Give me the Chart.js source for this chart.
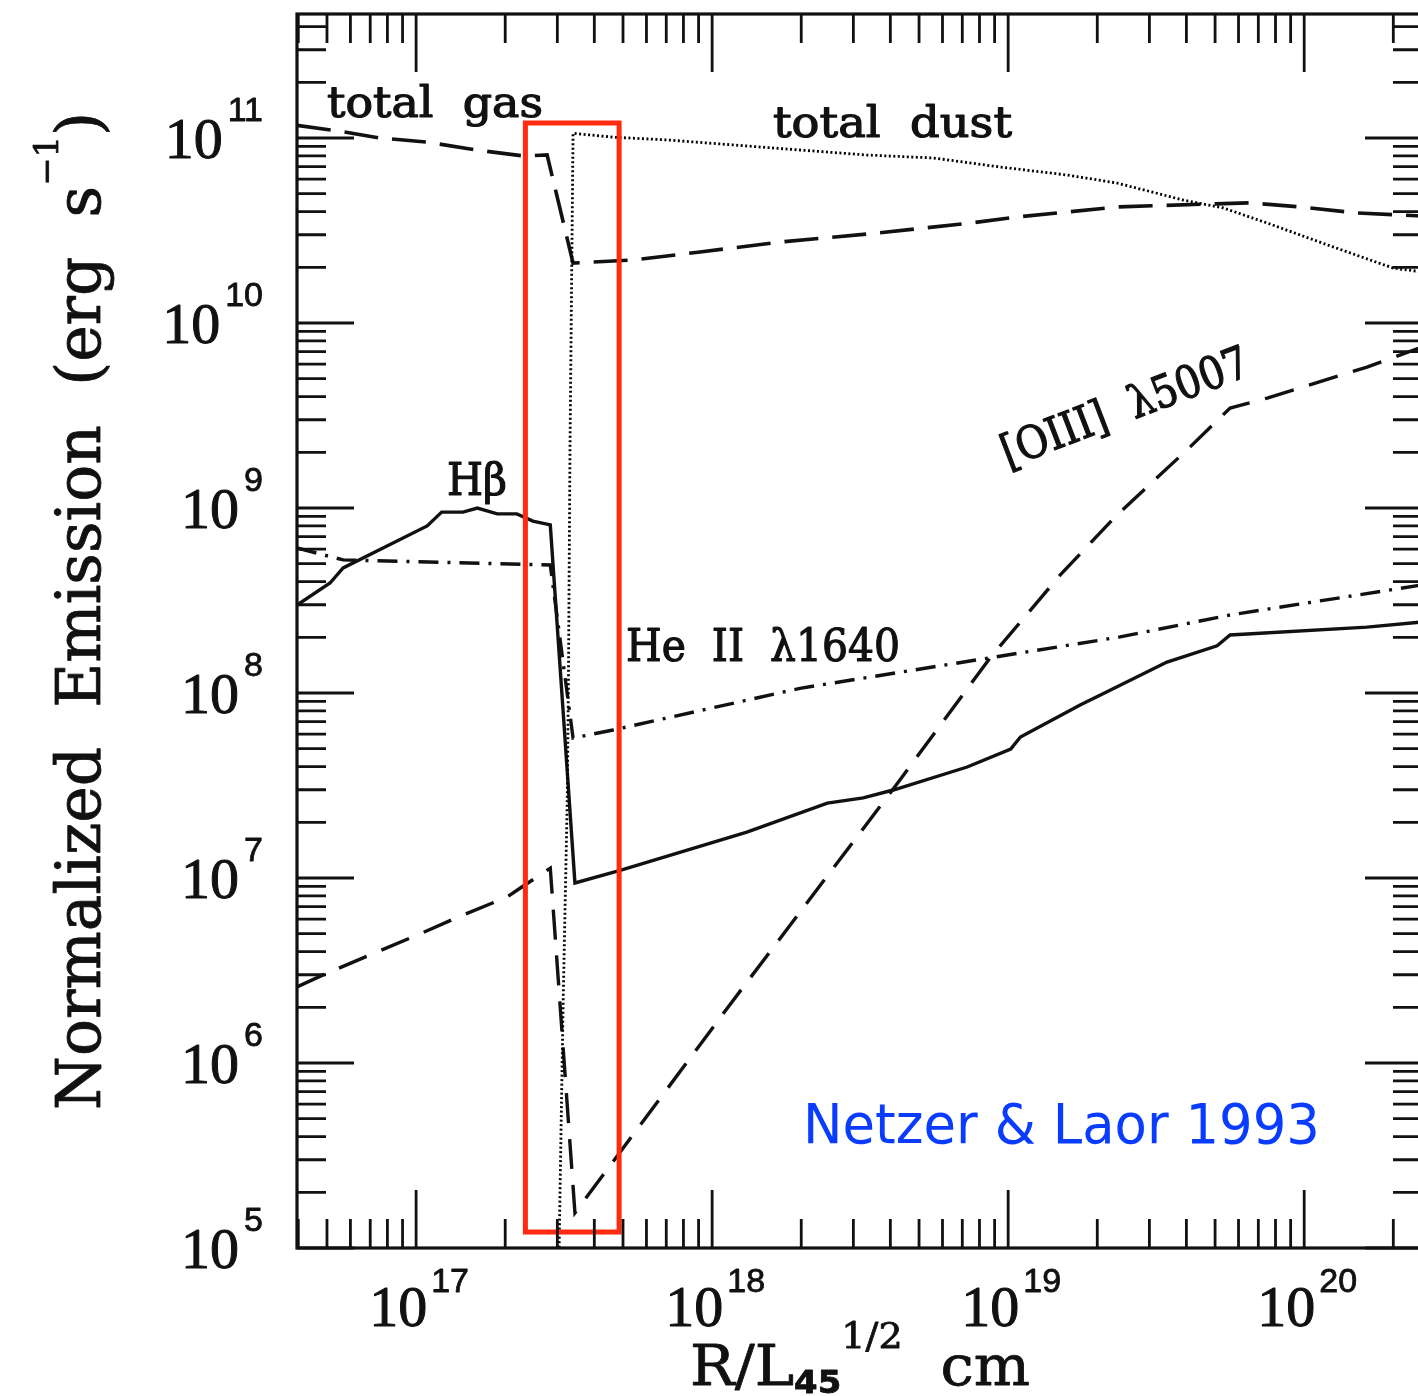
<!DOCTYPE html>
<html>
<head>
<meta charset="utf-8">
<title>Netzer &amp; Laor 1993</title>
<script src="https://cdn.jsdelivr.net/npm/chart.js@4.4.1/dist/chart.umd.min.js"></script>
<style>
  html, body { margin: 0; padding: 0; background: #ffffff; overflow: hidden; }
  #myChart { display: block; }
</style>
</head>
<body>
<canvas id="myChart" width="1440" height="1396"></canvas>
<script>
// R / L45^1/2 (cm) and emission (erg s^-1)
const hbR = [3.96e16, 5.12e16, 5.67e16, 1.09e17, 1.22e17, 1.44e17, 1.61e17, 1.88e17, 2.19e17, 2.48e17, 2.84e17, 3.44e17, 4.89e17, 1.31e18, 2.45e18, 3.24e18, 4.09e18, 7.27e18, 1.02e19, 1.10e19, 1.75e19, 2.05e19, 3.44e19, 5.08e19, 5.62e19, 1.63e20, 2.5e20];
const hbE = [2.99e8, 3.93e8, 4.74e8, 8.0e8, 9.5e8, 9.5e8, 1.0e9, 9.3e8, 9.3e8, 8.5e8, 8.1e8, 9.4e6, 1.10e7, 1.77e7, 2.54e7, 2.71e7, 2.99e7, 3.98e7, 4.98e7, 5.78e7, 8.61e7, 9.75e7, 1.47e8, 1.80e8, 2.06e8, 2.27e8, 2.42e8];

const heR = [3.96e16, 5.67e16, 2.84e17, 3.39e17, 4.63e17, 1.98e18, 8.69e18, 2.39e19, 5.62e19, 2.5e20];
const heE = [6.08e8, 5.24e8, 4.92e8, 5.71e7, 6.31e7, 1.06e8, 1.55e8, 2.01e8, 2.64e8, 3.84e8];

const gasR = [3.96e16, 5.67e16, 7.56e16, 1.09e17, 1.61e17, 2.30e17, 2.77e17, 3.39e17, 5.41e17, 9.10e17, 1.70e18, 3.61e18, 7.44e18, 1.07e19, 1.58e19, 2.33e19, 4.81e19, 6.57e19, 9.69e19, 1.51e20, 2.5e20];
const gasE = [1.17e11, 1.08e11, 1.0e11, 9.5e10, 8.6e10, 8.0e10, 8.1e10, 2.11e10, 2.19e10, 2.42e10, 2.74e10, 3.06e10, 3.47e10, 3.74e10, 3.98e10, 4.24e10, 4.40e10, 4.46e10, 4.24e10, 3.93e10, 3.79e10];

const dustR = [3.04e17, 3.14e17, 3.24e17, 3.27e17, 3.31e17, 3.39e17, 4.63e17, 7.05e17, 1.18e18, 1.98e18, 3.34e18, 5.58e18, 9.39e18, 1.58e19, 2.33e19, 3.90e19, 5.32e19, 7.50e19, 1.25e20, 2.0e20, 2.5e20];
const dustE = [9.5e4, 2.19e6, 2.64e7, 1.13e8, 2.06e9, 1.06e11, 1.01e11, 9.76e10, 9.17e10, 8.61e10, 8.09e10, 7.80e10, 6.97e10, 6.31e10, 5.71e10, 4.62e10, 4.19e10, 3.47e10, 2.58e10, 1.98e10, 1.89e10];

const o3R = [3.96e16, 5.0e16, 1.01e17, 1.44e17, 2.03e17, 2.25e17, 2.84e17, 3.44e17, 1.12e18, 4.09e18, 8.69e18, 1.50e19, 2.33e19, 4.12e19, 5.62e19, 7.50e19, 1.63e20, 2.5e20];
const o3E = [2.58e6, 3.06e6, 4.92e6, 6.31e6, 7.89e6, 8.83e6, 1.13e7, 1.55e5, 1.96e6, 3.03e7, 1.55e8, 4.35e8, 9.16e8, 2.14e9, 3.47e9, 3.93e9, 5.78e9, 7.42e9];

// axis ranges and tick labels (powers of ten)
const xMin = 3.96e16, xMax = 2.5e20;
const yMin = 1e5, yMax = 4.68e11;
const xTickExps = [17, 18, 19, 20];
const yTickExps = [5, 6, 7, 8, 9, 10, 11];

// highlighted region (red box)
const boxR = [2.34e17, 4.85e17];
const boxE = [1.22e5, 1.205e11];

function pts(r, e) {
  return r.map((v, i) => ({ x: v, y: e[i] }));
}

// fill + thin stroke so the text looks as heavy as the scanned figure
function ink(c, text, x, y, weight) {
  c.fillText(text, x, y);
  if (weight) {
    c.lineWidth = weight;
    c.strokeText(text, x, y);
  }
}

// draws a string squeezed/stretched to a given width
function fitText(c, text, x, y, width, font, weight) {
  c.font = font;
  const w = c.measureText(text).width;
  c.save();
  c.translate(x, y);
  c.scale(width / w, 1);
  ink(c, text, 0, 0, weight);
  c.restore();
}

// draws several text pieces (sub/superscripts) in a row, fitted to width
function fitPieces(c, pieces, width, weight) {
  let total = 0;
  pieces.forEach((p) => {
    c.font = p.font;
    p.w = c.measureText(p.t).width;
    total += p.w;
  });
  c.save();
  c.scale(width / total, 1);
  let cx = 0;
  pieces.forEach((p) => {
    c.font = p.font;
    ink(c, p.t, cx, p.dy, weight);
    cx += p.w;
  });
  c.restore();
}

const frame = {
  id: "frame",
  beforeDraw(chart) {
    const c = chart.ctx;
    c.save();
    c.fillStyle = "#ffffff";
    c.fillRect(0, 0, chart.width, chart.height);
    c.restore();
  },
  afterDatasetsDraw(chart) {
    const c = chart.ctx;
    const a = chart.chartArea;
    const xs = chart.scales.x;
    const ys = chart.scales.y;
    c.save();

    // red box
    c.strokeStyle = "#ff2a10";
    c.lineWidth = 5;
    const bx0 = xs.getPixelForValue(boxR[0]);
    const bx1 = xs.getPixelForValue(boxR[1]);
    const by0 = ys.getPixelForValue(boxE[1]);
    const by1 = ys.getPixelForValue(boxE[0]);
    c.strokeRect(bx0, by0, bx1 - bx0, by1 - by0);

    // frame
    c.strokeStyle = "#111";
    c.lineWidth = 3.2;
    c.strokeRect(a.left, a.top, a.right - a.left, a.bottom - a.top);

    // inward ticks on all four sides
    c.lineWidth = 2.8;
    c.beginPath();
    for (let e = 16; e <= 20; e++) {
      for (let m = 1; m <= 9; m++) {
        const v = m * Math.pow(10, e);
        if (v < xMin || v > xMax) continue;
        const p = xs.getPixelForValue(v);
        const len = m === 1 ? 58 : 29;
        c.moveTo(p, a.bottom);
        c.lineTo(p, a.bottom - len);
        c.moveTo(p, a.top);
        c.lineTo(p, a.top + len);
      }
    }
    for (let e = 5; e <= 11; e++) {
      for (let m = 1; m <= 9; m++) {
        const v = m * Math.pow(10, e);
        if (v < yMin || v > yMax) continue;
        const p = ys.getPixelForValue(v);
        const len = m === 1 ? 57 : 29;
        c.moveTo(a.left, p);
        c.lineTo(a.left + len, p);
        c.moveTo(a.right, p);
        c.lineTo(a.right - len, p);
      }
    }
    c.stroke();

    c.fillStyle = "#111";
    c.strokeStyle = "#111";
    c.lineJoin = "round";
    c.textBaseline = "alphabetic";
    c.textAlign = "left";
    const tenFont = '58px "Liberation Serif"';
    const expFont = '34px "Liberation Sans"';

    // x tick labels
    xTickExps.forEach((e) => {
      const p = xs.getPixelForValue(Math.pow(10, e));
      c.font = tenFont;
      const w1 = c.measureText("10").width;
      c.font = expFont;
      const w2 = c.measureText(String(e)).width;
      const start = p + 3 - (w1 + 4 + w2) / 2;
      c.font = tenFont;
      ink(c, "10", start, a.bottom + 78, 1);
      c.font = expFont;
      ink(c, String(e), start + w1 + 4, a.bottom + 44, 0.8);
    });

    // y tick labels
    yTickExps.forEach((e) => {
      const p = ys.getPixelForValue(Math.pow(10, e));
      c.font = expFont;
      const w2 = c.measureText(String(e)).width;
      c.textAlign = "right";
      ink(c, String(e), 263, p - 17, 0.8);
      c.font = tenFont;
      ink(c, "10", 263 - w2 - 5, p + 20, 1);
      c.textAlign = "left";
    });

    // axis titles
    c.save();
    c.translate(100, 1110);
    c.rotate(-Math.PI / 2);
    fitPieces(c, [
      { t: "Normalized  Emission  (erg  s", font: '62px "DejaVu Serif"', dy: 0 },
      { t: "\u22121", font: '34px "DejaVu Serif"', dy: -42 },
      { t: ")", font: '62px "DejaVu Serif"', dy: 0 },
    ], 998, 0.8);
    c.restore();

    c.save();
    c.translate(690, 1385);
    fitPieces(c, [
      { t: "R/L", font: '56px "DejaVu Serif"', dy: 0 },
      { t: "45", font: 'bold 32px "DejaVu Sans"', dy: 8 },
      { t: "1/2", font: '36px "DejaVu Serif"', dy: -37 },
      { t: "  cm", font: '56px "DejaVu Serif"', dy: 0 },
    ], 340, 0.8);
    c.restore();

    // curve labels
    const serif = '"DejaVu Serif"';
    fitText(c, "total  gas", 327, 117, 216, "42px " + serif, 1.2);
    fitText(c, "total  dust", 773, 137, 239, "42px " + serif, 1.2);
    fitText(c, "H\u03b2", 447, 495, 60, "44px " + serif, 1.2);
    fitText(c, "He  II  \u03bb1640", 626, 661, 274, "44px " + serif, 1.2);
    c.save();
    c.translate(1008, 468);
    c.rotate(-21 * Math.PI / 180);
    fitText(c, "[OIII]  \u03bb5007", 0, 0, 262, "45px " + serif, 1.2);
    c.restore();

    c.fillStyle = "#0a3cff";
    fitText(c, "Netzer & Laor 1993", 803, 1143, 517, '55px "DejaVu Sans"', 0);

    c.restore();
  },
};

new Chart(document.getElementById("myChart"), {
  type: "line",
  data: {
    datasets: [
      { label: "total dust", data: pts(dustR, dustE), borderColor: "#000", borderWidth: 2.8, borderDash: [2, 2.5] },
      { label: "total gas", data: pts(gasR, gasE), borderColor: "#111", borderWidth: 3.6, borderDash: [34, 14] },
      { label: "[OIII] 5007", data: pts(o3R, o3E), borderColor: "#111", borderWidth: 3.4, borderDash: [30, 16] },
      { label: "He II 1640", data: pts(heR, heE), borderColor: "#111", borderWidth: 3.4, borderDash: [20, 9, 3, 9] },
      { label: "Hbeta", data: pts(hbR, hbE), borderColor: "#111", borderWidth: 3.4 },
    ],
  },
  options: {
    responsive: false,
    animation: false,
    devicePixelRatio: 1,
    layout: { padding: { left: 297, top: 14, right: 1440 - 1422, bottom: 1396 - 1248 } },
    scales: {
      x: { type: "logarithmic", min: xMin, max: xMax, display: false },
      y: { type: "logarithmic", min: yMin, max: yMax, display: false },
    },
    elements: {
      point: { radius: 0 },
      line: { tension: 0, fill: false, borderCapStyle: "butt" },
    },
    plugins: {
      legend: { display: false },
      tooltip: { enabled: false },
    },
  },
  plugins: [frame],
});
</script>
</body>
</html>
